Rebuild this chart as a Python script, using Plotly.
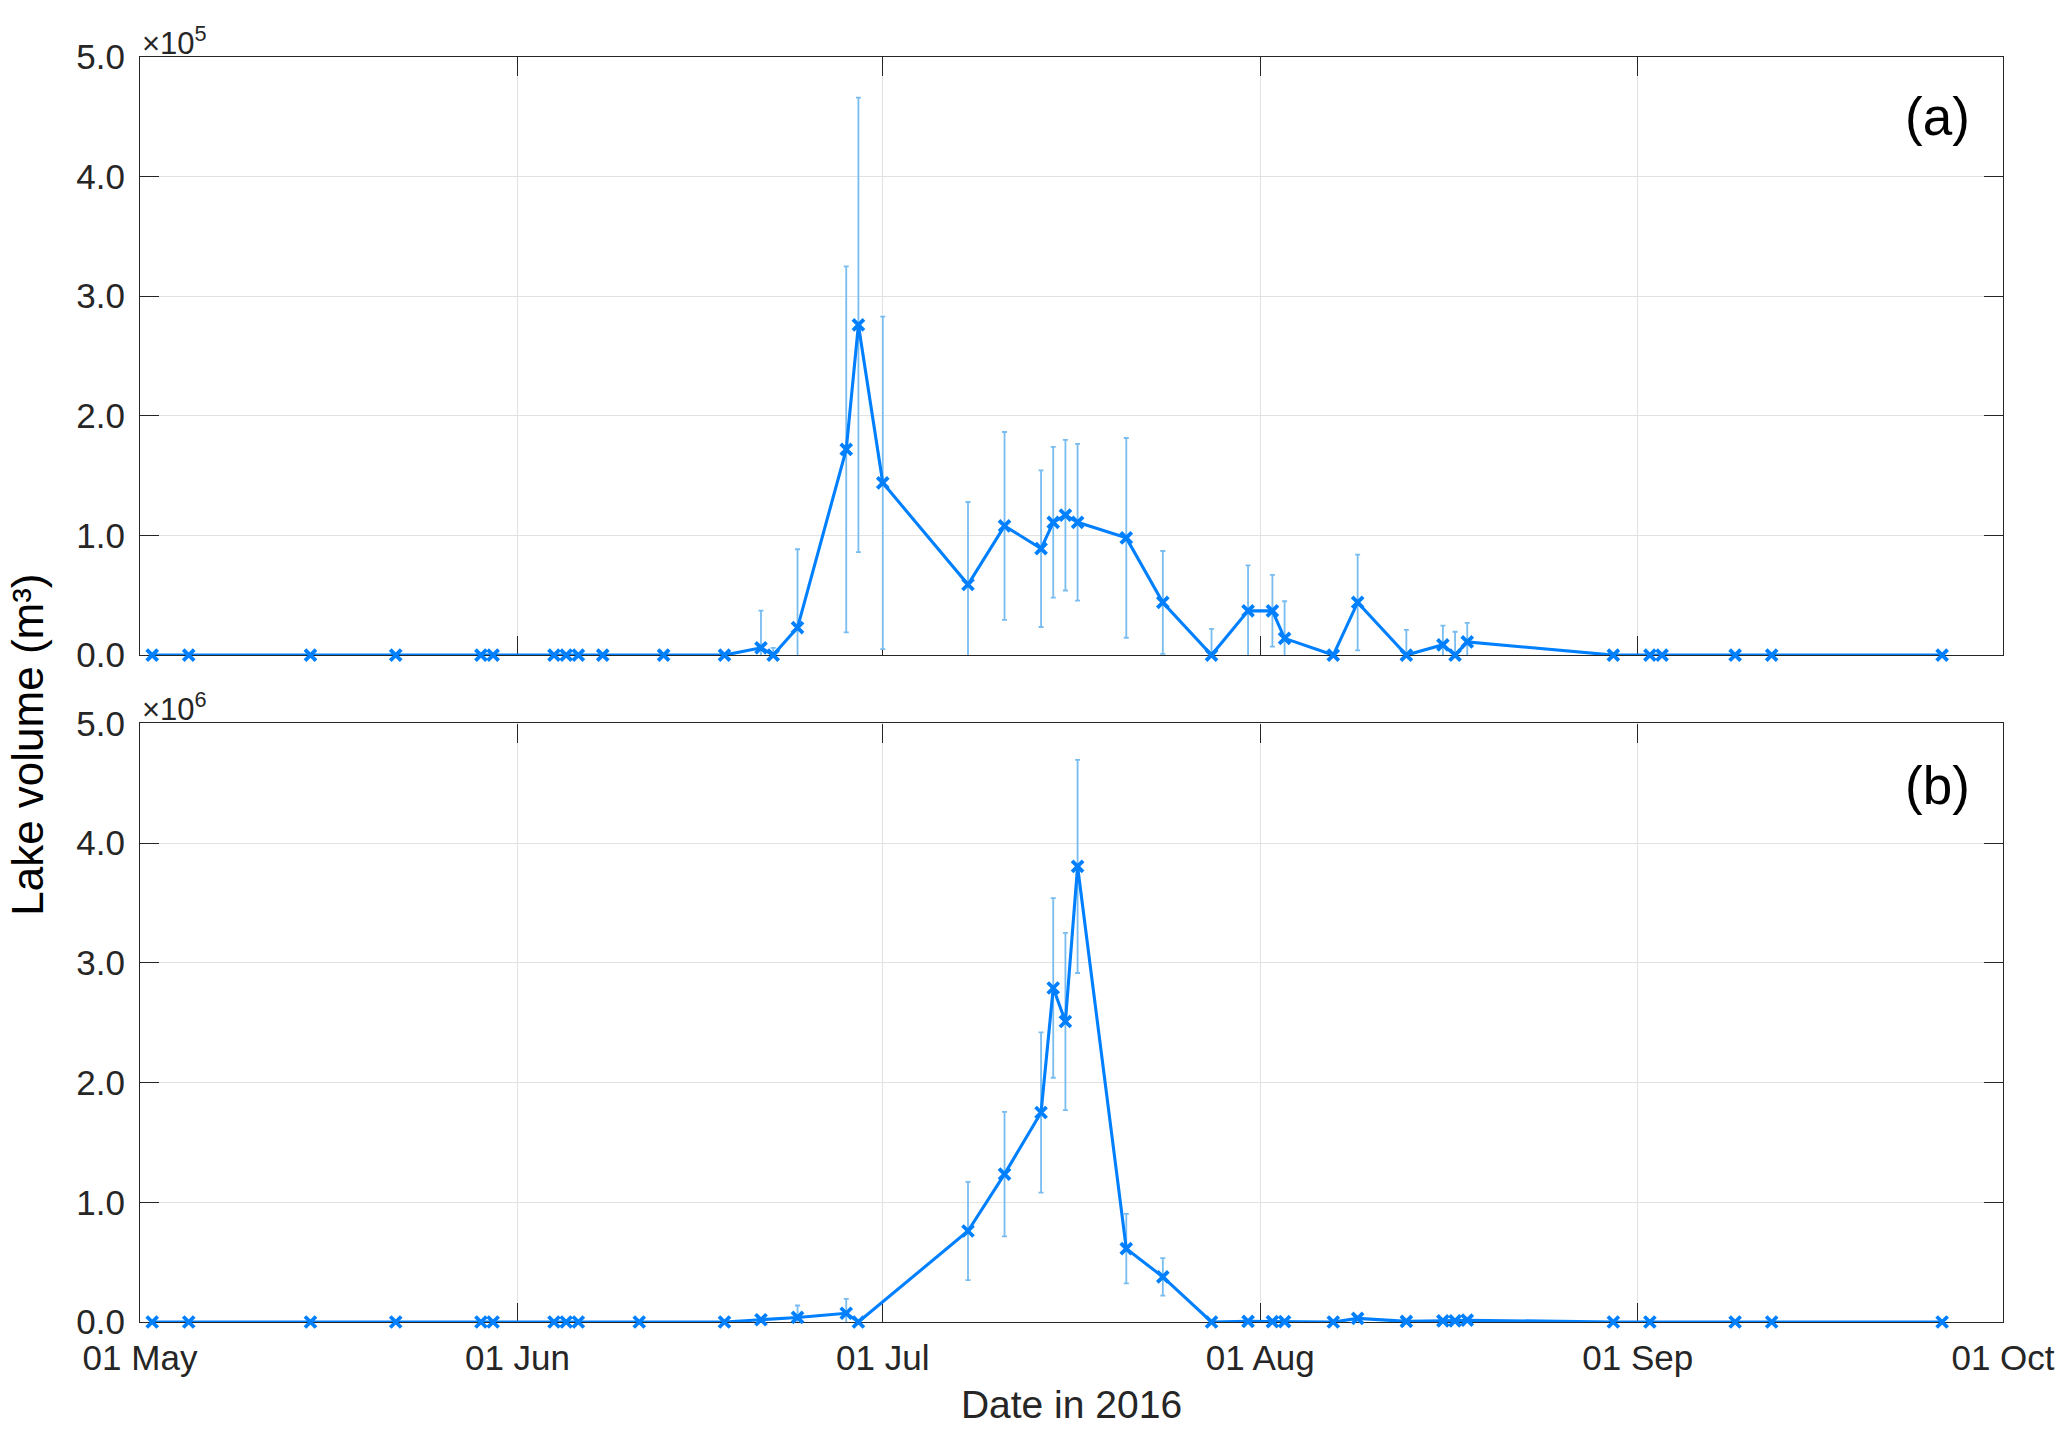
import plotly.graph_objects as go

# ---------------- data ----------------
dates_a = ["2016-05-02", "2016-05-05", "2016-05-15", "2016-05-22", "2016-05-29", "2016-05-30",
           "2016-06-04", "2016-06-05", "2016-06-06", "2016-06-08", "2016-06-13", "2016-06-18",
           "2016-06-21", "2016-06-22", "2016-06-24", "2016-06-28", "2016-06-29", "2016-07-01",
           "2016-07-08", "2016-07-11", "2016-07-14", "2016-07-15", "2016-07-16", "2016-07-17",
           "2016-07-21", "2016-07-24", "2016-07-28", "2016-07-31", "2016-08-02", "2016-08-03",
           "2016-08-07", "2016-08-09", "2016-08-13", "2016-08-16", "2016-08-17", "2016-08-18",
           "2016-08-30", "2016-09-02", "2016-09-03", "2016-09-09", "2016-09-12", "2016-09-26"]
vol_a = [0, 0, 0, 0, 0, 0,
         0, 0, 0, 0, 0, 0,
         6.1e3, 0, 2.3e4, 1.72e5, 2.76e5, 1.44e5,
         5.9e4, 1.08e5, 8.9e4, 1.11e5, 1.17e5, 1.11e5,
         9.8e4, 4.4e4, 0, 3.7e4, 3.7e4, 1.4e4,
         0, 4.4e4, 0, 8.6e3, 0, 1.1e4,
         0, 0, 0, 0, 0, 0]
err_a = [0, 0, 0, 0, 0, 0,
         0, 0, 0, 0, 0, 0,
         3.1e4, 6e3, 6.55e4, 1.53e5, 1.90e5, 1.39e5,
         6.9e4, 7.85e4, 6.55e4, 6.3e4, 6.3e4, 6.55e4,
         8.35e4, 4.3e4, 2.2e4, 3.8e4, 3.0e4, 3.1e4,
         0, 4.0e4, 2.1e4, 1.6e4, 1.95e4, 1.6e4,
         0, 0, 0, 0, 0, 0]

dates_b = ["2016-05-02", "2016-05-05", "2016-05-15", "2016-05-22", "2016-05-29", "2016-05-30",
           "2016-06-04", "2016-06-05", "2016-06-06", "2016-06-11", "2016-06-18", "2016-06-21",
           "2016-06-24", "2016-06-28", "2016-06-29", "2016-07-08", "2016-07-11", "2016-07-14",
           "2016-07-15", "2016-07-16", "2016-07-17", "2016-07-21", "2016-07-24", "2016-07-28",
           "2016-07-31", "2016-08-02", "2016-08-03", "2016-08-07", "2016-08-09", "2016-08-13",
           "2016-08-16", "2016-08-17", "2016-08-18", "2016-08-30", "2016-09-02", "2016-09-09",
           "2016-09-12", "2016-09-26"]
vol_b = [0, 0, 0, 0, 0, 0,
         0, 0, 0, 0, 0, 1.9e4,
         3.8e4, 7.3e4, 0, 7.6e5, 1.235e6, 1.75e6,
         2.79e6, 2.51e6, 3.805e6, 6.13e5, 3.77e5, 0,
         6e3, 3e3, 3e3, 0, 3e4, 5e3,
         1e4, 1e4, 1.5e4, 0, 0, 0,
         0, 0]
err_b = [0, 0, 0, 0, 0, 0,
         0, 0, 0, 0, 0, 0,
         1.0e5, 1.2e5, 0, 4.1e5, 5.2e5, 6.7e5,
         7.5e5, 7.4e5, 8.9e5, 2.9e5, 1.57e5, 0,
         0, 0, 0, 0, 0, 0,
         0, 0, 0, 0, 0, 0,
         0, 0]

ytick_units = [0, 1, 2, 3, 4, 5]
ytick_text = ["0.0", "1.0", "2.0", "3.0", "4.0", "5.0"]
scale_a = 1e5
scale_b = 1e6
panel_labels = ["(a)", "(b)"]
x_range = ["2016-05-01", "2016-10-01"]

# ---------------- style ----------------
LINE = "rgb(0,128,255)"
ERR = "rgb(120,188,240)"
TXT = "#262626"
GRID = "#e2e2e2"
FONT = "Liberation Sans, Arial, Helvetica, sans-serif"

fig = go.Figure()

for (dates, vol, err, xa, ya) in [(dates_a, vol_a, err_a, "x", "y"),
                                   (dates_b, vol_b, err_b, "x2", "y2")]:
    # error bars (clipped to the axes)
    fig.add_trace(go.Scatter(
        x=dates, y=vol, mode="markers", xaxis=xa, yaxis=ya,
        marker=dict(size=1, color="rgba(0,0,0,0)"),
        error_y=dict(type="data", array=err, symmetric=True, visible=True,
                     color=ERR, thickness=1.8, width=2.5),
        cliponaxis=True, showlegend=False, hoverinfo="skip"))
    # line with x markers
    fig.add_trace(go.Scatter(
        x=dates, y=vol, mode="lines+markers", xaxis=xa, yaxis=ya,
        line=dict(color=LINE, width=3.1),
        marker=dict(symbol="x-thin", size=11, color=LINE,
                    line=dict(color=LINE, width=3.8)),
        cliponaxis=False, showlegend=False))

y_top_dom = [0.5272, 1.0]
y_bot_dom = [0.0, 0.4732]

axis_common = dict(
    showline=True, linecolor=TXT, linewidth=1.3, mirror="ticks",
    ticks="inside", ticklen=19, tickwidth=1.3, tickcolor=TXT,
    showgrid=True, gridcolor=GRID, gridwidth=1, zeroline=False,
    tickfont=dict(family=FONT, size=35, color=TXT),
    layer="below traces",
)

xaxis_common = dict(axis_common, type="date", range=x_range, dtick="M1",
                    tick0="2016-05-01", tickformat="%d %b")

fig.update_layout(
    width=2067, height=1430,
    margin=dict(l=140, r=62, t=57, b=106),
    paper_bgcolor="white", plot_bgcolor="white",
    font=dict(family=FONT, color=TXT),
    xaxis=dict(xaxis_common, anchor="y", showticklabels=False),
    yaxis=dict(axis_common, domain=y_top_dom, anchor="x", range=[0, 5 * scale_a],
               tickvals=[v * scale_a for v in ytick_units], ticktext=ytick_text,
               ticklabelstandoff=7),
    xaxis2=dict(xaxis_common, anchor="y2", matches="x", ticklabelstandoff=5,
                title=dict(text="Date in 2016", font=dict(family=FONT, size=39, color=TXT),
                           standoff=14)),
    yaxis2=dict(axis_common, domain=y_bot_dom, anchor="x2", range=[0, 5 * scale_b],
                tickvals=[v * scale_b for v in ytick_units], ticktext=ytick_text,
                ticklabelstandoff=7),
)

ann = []
# exponent labels
for exp, ytop in [(5, y_top_dom[1]), (6, y_bot_dom[1])]:
    ann.append(dict(xref="paper", yref="paper", x=0, y=ytop, xanchor="left", yanchor="bottom",
                    xshift=0, yshift=-6,
                    text="×10<sup>%d</sup>" % exp, showarrow=False,
                    font=dict(family=FONT, size=31, color=TXT)))
# panel labels
for lab, yy in zip(panel_labels, [0.9526, 0.4238]):
    ann.append(dict(xref="paper", yref="paper", x=0.9646, y=yy, xanchor="center", yanchor="middle",
                    text=lab, showarrow=False, font=dict(family=FONT, size=53, color="black")))
# shared y label
ann.append(dict(xref="paper", yref="paper", x=-0.0605, y=0.4565, xanchor="center", yanchor="middle",
                text="Lake volume (m³)", textangle=-90, showarrow=False,
                font=dict(family=FONT, size=44, color="black")))
fig.update_layout(annotations=ann)

fig.write_html("out.html", config={"displayModeBar": False},
               post_script="document.body.style.margin='0';document.body.style.overflow='hidden';")
